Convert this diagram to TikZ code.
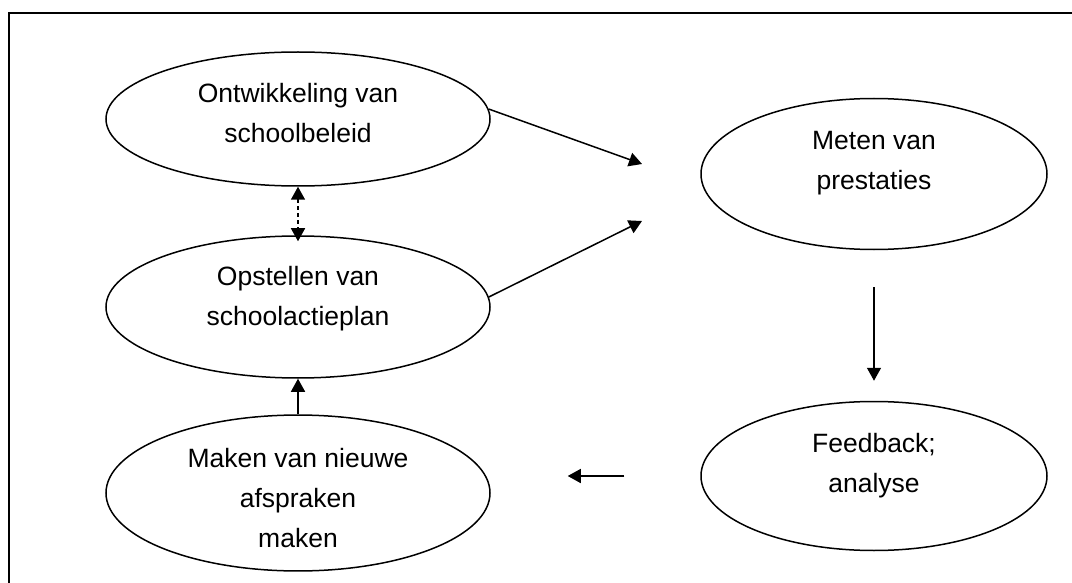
\documentclass[tikz,border=0pt]{standalone}
\usepackage{fontspec}
\setmainfont{Liberation Sans}
\usetikzlibrary{shapes.geometric,arrows.meta}

\begin{document}
\begin{tikzpicture}[x=1pt,y=-1pt,line width=1.5pt,>={Triangle[length=13pt,width=14pt]},
blob/.style={draw,ellipse,inner sep=0pt,align=center,font=\fontsize{26.5}{40}\selectfont}]
\useasboundingbox(0,0)rectangle(1072,583);
\draw(1072,13)--(9,13)--(9,583);
\node[blob,minimum width=384pt,minimum height=134pt,text depth=13pt](ontw)at(298,119){Ontwikkeling van\\schoolbeleid};
\node[blob,minimum width=384pt,minimum height=142pt,text depth=23pt](opst)at(298,307){Opstellen van\\schoolactieplan};
\node[blob,minimum width=384pt,minimum height=152pt,text height=110pt](maken)at(298,493){Maken van nieuwe\\afspraken\\maken};
\node[blob,minimum width=346pt,minimum height=151pt,text depth=27pt](meten)at(874,174){Meten van\\prestaties};
\node[blob,minimum width=346pt,minimum height=149pt,text depth=27pt](feed)at(874,476){Feedback;\\analyse};
\coordinate(m1)at(642,164);\coordinate(m2)at(642,221);
\draw[->](ontw.3)--(m1);\draw[->](opst.3)--(m2);
\draw[<->,dash pattern=on 4pt off 3pt,shorten >=-6pt](ontw)--(opst);
\draw[->](maken)--(opst);
\draw[->,shorten <=37pt,shorten >=20pt](meten)--(feed);
\draw[->,shorten <=76pt,shorten >=77pt](feed.west)--(feed.west-|maken.east);
\end{tikzpicture}
\end{document}
